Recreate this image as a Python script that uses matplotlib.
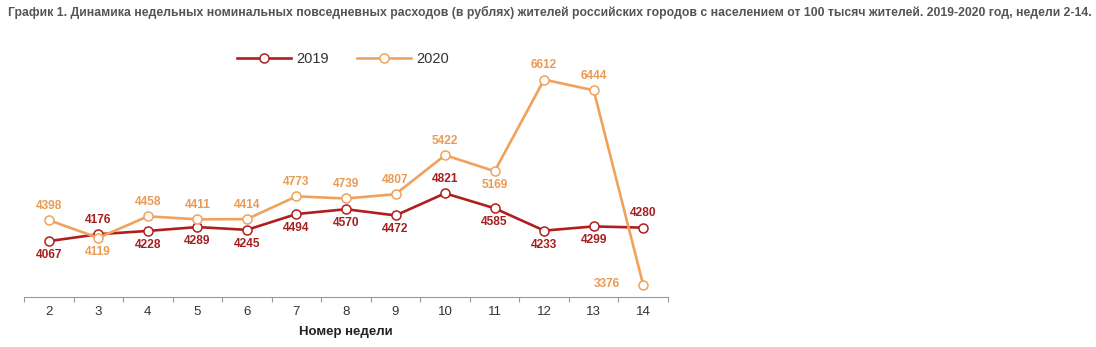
import matplotlib as mpl
import matplotlib.pyplot as plt
import numpy as np

mpl.rcParams.update(
    {
        "font.family": ["Liberation Sans", "DejaVu Sans"],
        "axes.linewidth": 0.8,
    }
)

weeks = [2, 3, 4, 5, 6, 7, 8, 9, 10, 11, 12, 13, 14]
spend_2019 = [4067, 4176, 4228, 4289, 4245, 4494, 4570, 4472, 4821, 4585, 4233, 4299, 4280]
spend_2020 = [4398, 4119, 4458, 4411, 4414, 4773, 4739, 4807, 5422, 5169, 6612, 6444, 3376]

# where each value label sits relative to its point
pos_2019 = ["below", "above", "below", "below", "below", "below", "below", "below",
            "above", "below", "below", "below", "above"]
pos_2020 = ["above", "below", "above", "above", "above", "above", "above", "above",
            "above", "below", "above", "above", "left"]

RED = "#b01e1e"
RED_TXT = "#a3201f"
ORANGE = "#f0a25c"
ORANGE_TXT = "#e99b55"

fig = plt.figure(figsize=(10.96, 3.47), dpi=100)
ax = fig.add_axes([24 / 1096, 50 / 347, 644 / 1096, 242 / 347])

ax.plot(weeks, spend_2019, color=RED, lw=1.9, marker="o", ms=6.5,
        mfc="white", mec=RED, mew=1.1, label="2019", zorder=3)
ax.plot(weeks, spend_2020, color=ORANGE, lw=1.9, marker="o", ms=6.5,
        mfc="white", mec=ORANGE, mew=1.1, label="2020", zorder=4)

offsets = {"above": (0, 10.5), "below": (0, -10), "left": (-17, 1)}


def put_labels(xs, ys, where, color):
    for x, y, w in zip(xs, ys, where):
        dx, dy = offsets[w]
        ha = "right" if w == "left" else "center"
        ax.annotate(str(y), (x, y), xytext=(dx, dy), textcoords="offset points",
                    ha=ha, va="center", fontsize=8.6, fontweight="bold",
                    color=color, zorder=5)


put_labels(weeks, spend_2019, pos_2019, RED_TXT)
put_labels(weeks, spend_2020, pos_2020, ORANGE_TXT)

ax.set_xlim(1.5, 14.5)
ax.set_ylim(3187, 7000)
ax.set_yticks([])
ax.set_xticks(weeks)
ax.set_xticklabels([str(w) for w in weeks], fontsize=9.5, color="#333333")
ax.set_xticks(np.arange(1.5, 14.6, 1), minor=True)
ax.tick_params(axis="x", which="major", length=0, pad=6.5)
ax.tick_params(axis="x", which="minor", length=3.5, color="#999999", width=0.8)
for side in ["top", "right", "left"]:
    ax.spines[side].set_visible(False)
ax.spines["bottom"].set_color("#999999")

ax.set_xlabel("Номер недели", fontsize=9.5, fontweight="bold", color="#222222",
              labelpad=6)

ax.legend(loc="upper left", bbox_to_anchor=(0.31, 1.065), ncol=2, frameon=False,
          fontsize=10.5, handlelength=3.7, columnspacing=1.9, handletextpad=0.4,
          labelcolor="#333333")

fig.text(8 / 1096, 1 - 12 / 347,
         "График 1. Динамика недельных номинальных повседневных расходов (в рублях) "
         "жителей российских городов с населением от 100 тысяч жителей. "
         "2019-2020 год, недели 2-14.",
         fontsize=8.8, fontweight="bold", color="#555555", ha="left", va="center")

fig.savefig("out.png", dpi=100)
